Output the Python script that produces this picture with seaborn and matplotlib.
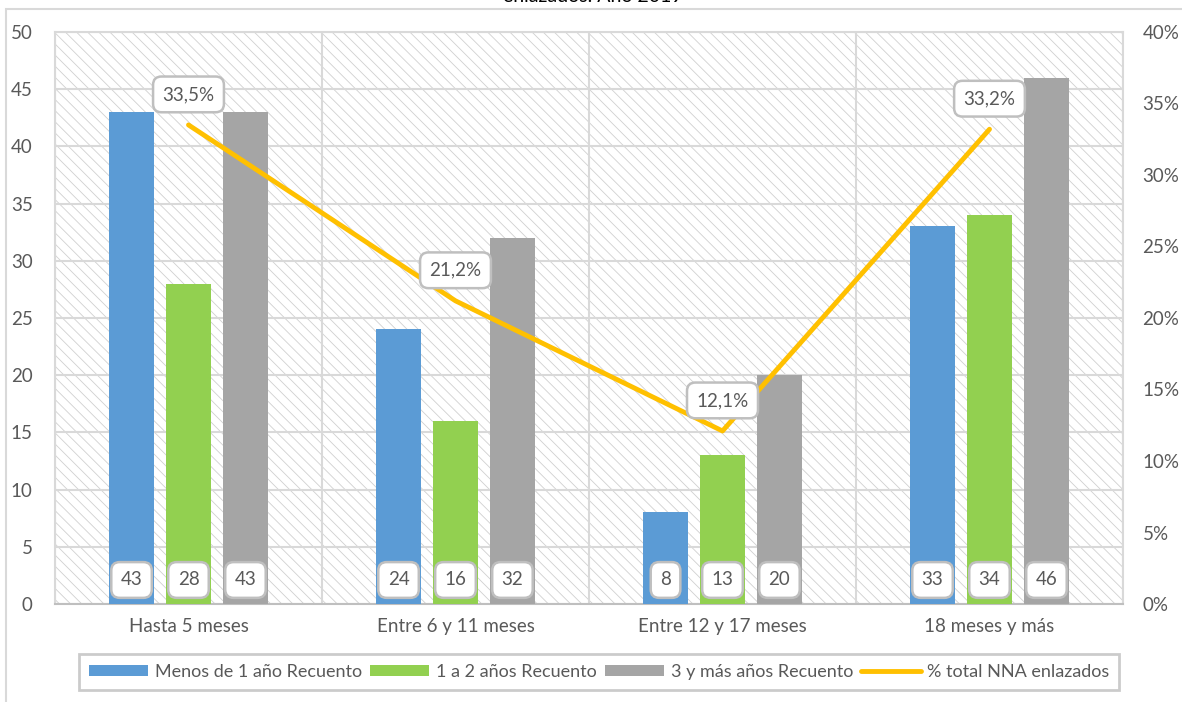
import pandas as pd
import seaborn as sns
import matplotlib.pyplot as plt
from matplotlib.patches import Rectangle, Patch
from matplotlib.lines import Line2D
from matplotlib.ticker import MultipleLocator, PercentFormatter

# datos del grafico
categorias = ['Hasta 5 meses', 'Entre 6 y 11 meses', 'Entre 12 y 17 meses', '18 meses y más']
series = ['Menos de 1 año Recuento', '1 a 2 años Recuento', '3 y más años Recuento']
menos_1 = [43, 24, 8, 33]
de_1_a_2 = [28, 16, 13, 34]
tres_y_mas = [43, 32, 20, 46]
pct_total = [0.335, 0.212, 0.121, 0.332]
pct_labels = ['33,5%', '21,2%', '12,1%', '33,2%']
colores = ['#5B9BD5', '#92D050', '#A5A5A5']
color_linea = '#FFC000'

df = pd.DataFrame({
    'categoria': categorias * 3,
    'serie': [series[0]] * 4 + [series[1]] * 4 + [series[2]] * 4,
    'valor': menos_1 + de_1_a_2 + tres_y_mas,
})

sns.set_theme(style='white')
plt.rcParams['font.family'] = ['Lato', 'DejaVu Sans']
plt.rcParams['hatch.linewidth'] = 0.6
plt.rcParams['hatch.color'] = '#D0D0D0'

fig = plt.figure(figsize=(11.82, 7.02), dpi=100)
ax = fig.add_axes([55 / 1182, 98 / 702, 1068 / 1182, 572 / 702])

# fondo rayado
ax.add_patch(Rectangle((0, 0), 1, 1, transform=ax.transAxes, facecolor='white',
                       edgecolor='#D0D0D0', hatch='\\\\\\', lw=0, zorder=0))

sns.barplot(data=df, x='categoria', y='valor', hue='serie', palette=colores,
            saturation=1, width=0.64, gap=0.21, linewidth=0, ax=ax, legend=False, zorder=3)

ax.set_xlim(-0.5, 3.5)
ax.set_ylim(0, 50)
ax.yaxis.set_major_locator(MultipleLocator(5))
ax.set_xticks([-0.5, 0.5, 1.5, 2.5, 3.5], minor=True)
ax.grid(axis='y', color='#D9D9D9', lw=1.5, zorder=1)
ax.grid(axis='x', which='minor', color='#D9D9D9', lw=1.5, zorder=1)
ax.set_axisbelow(True)
ax.set_xlabel('')
ax.set_ylabel('')
ax.tick_params(axis='x', which='major', length=0, pad=10, labelsize=13.5, labelcolor='#595959')
ax.tick_params(axis='x', which='minor', length=6, color='#BFBFBF', width=1.5)
ax.tick_params(axis='y', length=0, pad=16, labelsize=13.5, labelcolor='#595959')
for s in ['left', 'right', 'top']:
    ax.spines[s].set_color('#D9D9D9')
    ax.spines[s].set_linewidth(1.5)
ax.spines['bottom'].set_color('#BFBFBF')
ax.spines['bottom'].set_linewidth(1.5)

# etiquetas de barras abajo
box_bar = dict(boxstyle='round,pad=0.5,rounding_size=0.45', fc='white', ec='#BFBFBF', lw=1.8)
for cont in ax.containers:
    for bar in cont:
        ax.text(bar.get_x() + bar.get_width() / 2, 2.1, f'{bar.get_height():.0f}',
                ha='center', va='center', fontsize=13.5, color='#595959', bbox=box_bar, zorder=5)

# linea de porcentaje en eje secundario
ax2 = ax.twinx()
sns.lineplot(x=categorias, y=pct_total, sort=False, color=color_linea, lw=3.5, ax=ax2, zorder=4)
ax2.set_ylim(0, 0.40)
ax2.yaxis.set_major_locator(MultipleLocator(0.05))
ax2.yaxis.set_major_formatter(PercentFormatter(1.0, decimals=0))
ax2.tick_params(axis='y', length=0, pad=14, labelsize=13.5, labelcolor='#595959')
for s in ax2.spines.values():
    s.set_visible(False)
ax2.grid(False)

box_pct = dict(boxstyle='round,pad=0.5,rounding_size=0.45', fc='white', ec='#BFBFBF', lw=1.8)
for i, (v, lab) in enumerate(zip(pct_total, pct_labels)):
    ax2.annotate(lab, xy=(i, v), xytext=(0, 22), textcoords='offset points',
                 ha='center', va='center', fontsize=13.5, color='#595959', bbox=box_pct, zorder=6)

# leyenda
handles = [Patch(facecolor=c, edgecolor='none') for c in colores]
handles.append(Line2D([], [], color=color_linea, lw=3.5))
leg = fig.legend(handles, series + ['% total NNA enlazados'], loc='center',
                 bbox_to_anchor=(599 / 1182, 30 / 702), ncol=4, fontsize=13,
                 frameon=True, fancybox=False, handlelength=3.3, handleheight=0.55,
                 handletextpad=0.35, columnspacing=0.45, borderpad=0.55, labelcolor='#595959')
leg.get_frame().set_edgecolor('#BFBFBF')
leg.get_frame().set_linewidth(2)

# borde del grafico y titulo cortado
fig.add_artist(Rectangle((6 / 1182, -0.1), 1.2, 1.1 - 9 / 702, transform=fig.transFigure,
                         fill=False, ec='#D9D9D9', lw=1.5))
fig.text(593 / 1182, 697 / 702, 'enlazados. Año 2019', ha='center', va='bottom',
         fontsize=14, color='black')

fig.savefig('out.png', dpi=100)
